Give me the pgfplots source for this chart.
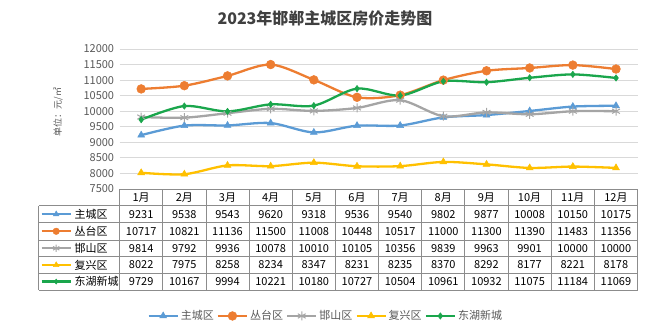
\documentclass[border=0pt]{standalone}
\usepackage{fontspec}
\setmainfont{Noto Sans CJK SC}
\usepackage{pgfplots}
\pgfplotsset{compat=1.18}
\definecolor{cBlue}{HTML}{5B9BD5}
\definecolor{cOrange}{HTML}{ED7D31}
\definecolor{cGray}{HTML}{A5A5A5}
\definecolor{cYellow}{HTML}{FFC000}
\definecolor{cGreen}{HTML}{1AA64C}
\definecolor{cText}{HTML}{595959}
\definecolor{cGrid}{HTML}{D9D9D9}
\definecolor{cBorder}{HTML}{8C8C8C}
\definecolor{cTitle}{HTML}{404040}
\newcommand{\fs}{\fontsize{11pt}{12pt}\selectfont}
\begin{document}
\begin{tikzpicture}[x=1pt,y=1pt]
\useasboundingbox (0,0) rectangle (649,335);
\node[font=\fontsize{16pt}{18pt}\selectfont\bfseries, text=cTitle] at (325,317) {2023年邯郸主城区房价走势图};
\node[rotate=90, font=\fontsize{9pt}{10pt}\selectfont, text=cText] at (58,223) {单位：元/㎡};
\begin{axis}[
  at={(119.6pt,146pt)}, anchor=south west,
  width=518pt, height=140pt, scale only axis,
  xmin=0.5, xmax=12.5, ymin=7500, ymax=12000,
  ytick={7500,8000,...,12000}, xtick=\empty,
  scaled y ticks=false,
  axis line style={draw=none},
  ymajorgrids, grid style={cGrid, line width=0.8pt},
  major tick length=0pt,
  yticklabel style={font=\fs, text=cText, xshift=-2pt},
  /pgf/number format/.cd, 1000 sep={}, assume math mode=true,
  /pgfplots/.cd,
  clip=false,
  legend columns=5,
  legend style={at={(0.398,-0.907)}, anchor=center, draw=none, font=\fs, text=cText,
    /tikz/every even column/.append style={column sep=1pt}, inner sep=0pt},
  legend image code/.code={\draw[mark repeat=2,mark phase=2] plot coordinates {(0pt,0pt)(14.5pt,0pt)(29pt,0pt)};},
  every axis plot/.append style={line width=2.3pt, smooth, tension=0.5},
]
\addplot[cBlue, mark=triangle*, mark size=4pt, mark options={solid, line width=0.5pt}] coordinates {(1,9231)(2,9538)(3,9543)(4,9620)(5,9318)(6,9536)(7,9540)(8,9802)(9,9877)(10,10008)(11,10150)(12,10175)};
\addlegendentry{主城区}
\addplot[cOrange, mark=*, mark size=4.4pt, mark options={solid, line width=0.5pt}] coordinates {(1,10717)(2,10821)(3,11136)(4,11500)(5,11008)(6,10448)(7,10517)(8,11000)(9,11300)(10,11390)(11,11483)(12,11356)};
\addlegendentry{丛台区}
\addplot[cGray, mark=asterisk, mark size=4.5pt, mark options={solid, line width=1pt}] coordinates {(1,9814)(2,9792)(3,9936)(4,10078)(5,10010)(6,10105)(7,10356)(8,9839)(9,9963)(10,9901)(11,10000)(12,10000)};
\addlegendentry{邯山区}
\addplot[cYellow, mark=triangle*, mark size=4pt, mark options={solid, line width=0.5pt}] coordinates {(1,8022)(2,7975)(3,8258)(4,8234)(5,8347)(6,8231)(7,8235)(8,8370)(9,8292)(10,8177)(11,8221)(12,8178)};
\addlegendentry{复兴区}
\addplot[cGreen, mark=diamond*, mark size=3.2pt, mark options={solid, line width=0.5pt}] coordinates {(1,9729)(2,10167)(3,9994)(4,10221)(5,10180)(6,10727)(7,10504)(8,10961)(9,10932)(10,11075)(11,11184)(12,11069)};
\addlegendentry{东湖新城}
\end{axis}
% table grid
\def\xa{38.75}\def\xb{119.6}\def\xe{637.5}\def\cw{43.158}
\draw[cBorder, line width=0.8pt] (\xb,146) -- (\xe,146);
\foreach \yy in {129.3,112.3,95,78.3,61.7,45} {\draw[cBorder, line width=0.8pt] (\xa,\yy) -- (\xe,\yy);}
\draw[cBorder, line width=0.8pt] (\xa,45) -- (\xa,129.3);
\foreach \k in {0,...,12} {\draw[cBorder, line width=0.8pt] ({\xb+\k*\cw},45) -- ({\xb+\k*\cw},146);}
% header
\foreach \m in {1,...,12} {\node[font=\fs] at ({\xb+(\m-0.5)*\cw},137.7) {\m{}月};}
% row labels with keys
\draw[cBlue, line width=2.3pt] (41.7,120.8) -- (70.8,120.8);
\path plot[mark=triangle*, mark size=3.3pt, mark options={cBlue, fill=cBlue}] coordinates {(56.2,120.8)};
\node[font=\fs, anchor=west, inner sep=0pt] at (74.5,120.8) {主城区};
\draw[cOrange, line width=2.3pt] (41.7,103.7) -- (70.8,103.7);
\path plot[mark=*, mark size=3.3pt, mark options={cOrange, fill=cOrange}] coordinates {(56.2,103.7)};
\node[font=\fs, anchor=west, inner sep=0pt] at (74.5,103.7) {丛台区};
\draw[cGray, line width=2.3pt] (41.7,86.7) -- (70.8,86.7);
\path plot[mark=asterisk, mark size=3.6pt, mark options={cGray, line width=1pt}] coordinates {(56.2,86.7)};
\node[font=\fs, anchor=west, inner sep=0pt] at (74.5,86.7) {邯山区};
\draw[cYellow, line width=2.3pt] (41.7,70) -- (70.8,70);
\path plot[mark=triangle*, mark size=3.3pt, mark options={cYellow, fill=cYellow}] coordinates {(56.2,70)};
\node[font=\fs, anchor=west, inner sep=0pt] at (74.5,70) {复兴区};
\draw[cGreen, line width=2.3pt] (41.7,53.4) -- (70.8,53.4);
\path plot[mark=diamond*, mark size=2.6pt, mark options={cGreen, fill=cGreen}] coordinates {(56.2,53.4)};
\node[font=\fs, anchor=west, inner sep=0pt] at (74.5,53.4) {东湖新城};
% values
\newcommand{\row}[2]{\foreach \v [count=\i] in {#2} {\node[font=\fs] at ({\xb+(\i-0.5)*\cw},#1) {\v};}}
\row{120.8}{9231,9538,9543,9620,9318,9536,9540,9802,9877,10008,10150,10175}
\row{103.7}{10717,10821,11136,11500,11008,10448,10517,11000,11300,11390,11483,11356}
\row{86.7}{9814,9792,9936,10078,10010,10105,10356,9839,9963,9901,10000,10000}
\row{70}{8022,7975,8258,8234,8347,8231,8235,8370,8292,8177,8221,8178}
\row{53.4}{9729,10167,9994,10221,10180,10727,10504,10961,10932,11075,11184,11069}
\end{tikzpicture}
\end{document}
